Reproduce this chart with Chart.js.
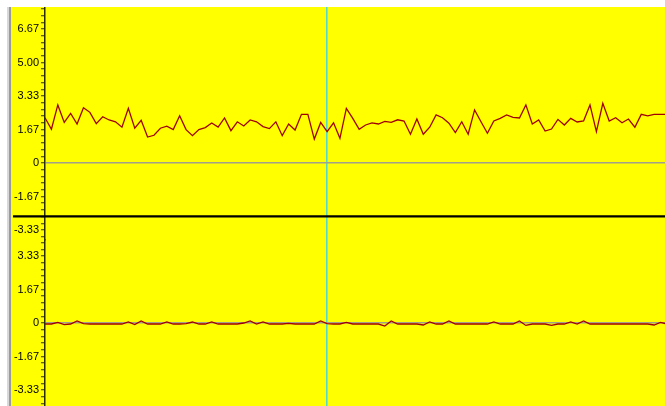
<!DOCTYPE html>
<html>
<head>
<meta charset="utf-8">
<script src="https://cdn.jsdelivr.net/npm/chart.js@4/dist/chart.umd.min.js"></script>
<style>
  html, body { margin: 0; padding: 0; background: #ffffff; width: 665px; height: 406px; overflow: hidden; }
  #bar { position: absolute; left: 7px; top: 7px; width: 4px; height: 399px;
         background: linear-gradient(to right, #d8d8d8 0, #d8d8d8 2px, #9a9a9a 2px, #9a9a9a 4px); }
  #wrap { position: absolute; left: 11px; top: 7px; width: 654px; height: 399px; background: #ffff00; }
  canvas { display: block; }
</style>
</head>
<body>
<div id="bar"></div>
<div id="wrap"><canvas id="c" width="654" height="399"></canvas></div>
<script>
// ---- data ----
const TOP_VALUES = [
  2.25, 1.68, 2.89, 2.02, 2.47, 1.94, 2.75, 2.52, 1.96, 2.30,
  2.14, 2.05, 1.78, 2.72, 1.73, 2.12, 1.29, 1.38, 1.73, 1.83,
  1.66, 2.35, 1.66, 1.36, 1.66, 1.76, 1.99, 1.79, 2.24, 1.61,
  2.05, 1.84, 2.14, 2.05, 1.81, 1.71, 2.05, 1.36, 1.94, 1.64,
  2.42, 2.42, 1.19, 2.02, 1.56, 2.00, 1.23, 2.72, 2.22, 1.68,
  1.89, 2.00, 1.94, 2.07, 2.02, 2.15, 2.09, 1.43, 2.19, 1.43,
  1.78, 2.39, 2.25, 1.98, 1.51, 2.05, 1.43, 2.64, 2.05, 1.48,
  2.09, 2.22, 2.39, 2.27, 2.24, 2.89, 1.94, 2.14, 1.59, 1.69,
  2.17, 1.89, 2.22, 2.04, 2.09, 2.89, 1.56, 2.97, 2.09, 2.25,
  2.00, 2.19, 1.78, 2.42, 2.35, 2.42, 2.42, 2.42
];
const BOTTOM_VALUES = [
  -0.05, -0.05, 0.03, -0.08, -0.05, 0.10, -0.03, -0.05, -0.05, -0.05,
  -0.05, -0.05, -0.05, 0.05, -0.08, 0.10, -0.05, -0.05, -0.05, 0.05,
  -0.05, -0.05, -0.03, 0.05, -0.05, -0.05, 0.05, -0.05, -0.05, -0.05,
  -0.05, 0.00, 0.10, -0.05, 0.05, -0.05, -0.05, -0.05, -0.02, -0.05,
  -0.05, -0.05, -0.05, 0.10, -0.03, -0.05, -0.05, 0.03, -0.05, -0.05,
  -0.05, -0.05, -0.05, -0.15, 0.10, -0.05, -0.05, -0.05, -0.05, -0.10,
  0.05, -0.05, -0.05, 0.10, -0.05, -0.05, -0.05, -0.05, -0.05, -0.05,
  0.05, -0.05, -0.05, -0.05, 0.10, -0.12, -0.05, -0.05, -0.05, -0.12,
  -0.05, -0.05, 0.05, -0.05, 0.10, -0.05, -0.05, -0.05, -0.05, -0.05,
  -0.05, -0.05, -0.05, -0.05, -0.05, -0.10, 0.03, -0.05
];
const TOP_TICK_VALUES = [6.667, 5.0, 3.333, 1.667, 0, -1.667, -3.333];
const TOP_TICK_LABELS = ['6.67', '5.00', '3.33', '1.67', '0', '-1.67', '-3.33'];
const BOTTOM_TICK_VALUES = [3.333, 1.667, 0, -1.667, -3.333];
const BOTTOM_TICK_LABELS = ['3.33', '1.67', '0', '-1.67', '-3.33'];
const TOP_RANGE = { min: -3.831, max: 7.761 };
const BOTTOM_RANGE = { min: -4.129, max: 4.129 };
const X_RANGE = { min: 0, max: 96.7 };
const CURSOR_INDEX = 44;
const DIVIDER_VALUE = -2.66;
const MINOR_STEP = 1 / 3;

// ---- helpers ----
function buildTicks(min, max) {
  const out = [];
  const start = Math.ceil(min / MINOR_STEP - 1e-6);
  const end = Math.floor(max / MINOR_STEP + 1e-6);
  for (let n = end; n >= start; n--) out.push({ value: n * MINOR_STEP });
  return out;
}
function labelFor(value, vals, labels) {
  for (let i = 0; i < vals.length; i++) {
    if (Math.abs(vals[i] - value) < 0.01) return labels[i];
  }
  return '';
}
function zeroAware(ctx, color) {
  return (ctx.tick && Math.abs(ctx.tick.value) < 1e-6) ? color : 'rgba(0,0,0,0)';
}
function fixPadding(scale) {
  scale.paddingTop = 0; scale.paddingBottom = 0;
  scale.paddingLeft = 0; scale.paddingRight = 0;
}

const dividerPlugin = {
  id: 'divider',
  afterDatasetsDraw(chart) {
    const y = chart.scales.y.getPixelForValue(DIVIDER_VALUE);
    const ctx = chart.ctx;
    ctx.save();
    ctx.strokeStyle = '#000000';
    ctx.lineWidth = 2.2;
    ctx.beginPath();
    ctx.moveTo(2, y);
    ctx.lineTo(chart.width, y);
    ctx.stroke();
    ctx.restore();
  }
};

const yCommon = (range, tickVals, tickLabels, weight) => ({
  type: 'linear',
  position: 'left',
  stack: 'panels',
  stackWeight: weight,
  min: range.min,
  max: range.max,
  afterBuildTicks: (s) => { s.ticks = buildTicks(range.min, range.max); },
  afterFit: (s) => { s.width = 34; fixPadding(s); },
  border: { display: true, color: '#2a2a00', width: 1.5 },
  grid: {
    drawOnChartArea: true,
    color: (ctx) => zeroAware(ctx, '#a0a08c'),
    lineWidth: 1.5,
    tickColor: '#333300',
    tickLength: 4,
    tickWidth: 1
  },
  ticks: {
    autoSkip: false,
    padding: 2,
    color: '#000000',
    font: { family: 'Liberation Sans, Arial, sans-serif', size: 11 },
    callback: (v) => labelFor(v, tickVals, tickLabels)
  }
});

new Chart(document.getElementById('c'), {
  type: 'line',
  data: {
    datasets: [
      {
        data: TOP_VALUES.map((v, i) => ({ x: i, y: v })),
        yAxisID: 'y',
        borderColor: '#a00000',
        borderWidth: 1.3,
        pointRadius: 0,
        tension: 0
      },
      {
        data: BOTTOM_VALUES.map((v, i) => ({ x: i, y: v })),
        yAxisID: 'y2',
        borderColor: '#a00000',
        borderWidth: 1.3,
        pointRadius: 0,
        tension: 0
      }
    ]
  },
  options: {
    responsive: false,
    animation: false,
    events: [],
    layout: { padding: 0 },
    plugins: { legend: { display: false }, tooltip: { enabled: false }, title: { display: false } },
    scales: {
      x: {
        type: 'linear',
        min: X_RANGE.min,
        max: X_RANGE.max,
        afterBuildTicks: (s) => { s.ticks = [{ value: CURSOR_INDEX }]; },
        afterFit: (s) => { s.height = 0; fixPadding(s); },
        border: { display: false },
        grid: { color: '#55d8cc', lineWidth: 1.6, drawTicks: false },
        ticks: { display: false }
      },
      y2: yCommon(BOTTOM_RANGE, BOTTOM_TICK_VALUES, BOTTOM_TICK_LABELS, 166),
      y: yCommon(TOP_RANGE, TOP_TICK_VALUES, TOP_TICK_LABELS, 233)
    }
  },
  plugins: [dividerPlugin]
});
</script>
</body>
</html>
